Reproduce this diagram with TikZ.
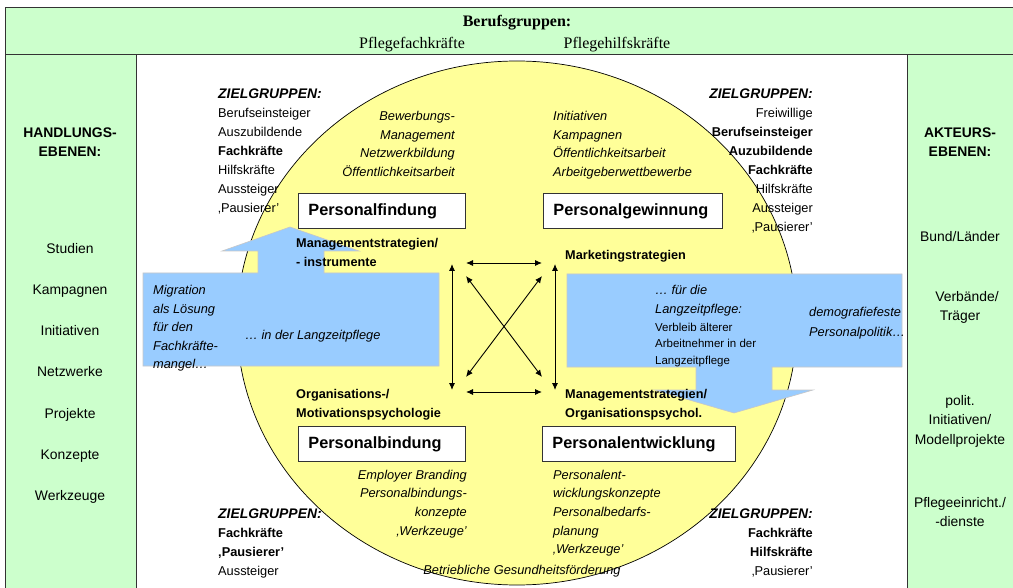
\documentclass[tikz,border=0pt]{standalone}
\usepackage{fontspec}
\setmainfont{Liberation Sans}
\newfontfamily\seriffont{Liberation Serif}
\usetikzlibrary{arrows.meta}
\definecolor{colgreen}{HTML}{CCFFCC}
\definecolor{colyellow}{HTML}{FFFF99}
\definecolor{colblue}{HTML}{99CCFF}
\definecolor{colborder}{HTML}{333333}
\newcommand\txtlines[6]{\foreach \t [count=\i] in {#6} {\node[#2] (#1\i) at (#3,{#4+#5*(\i-1)}) {\t};}}
\newcommand\zgh{{\fontsize{13.9}{15}\selectfont\bfseries\itshape ZIELGRUPPEN:}}
\begin{document}
\begin{tikzpicture}[x=1pt,y=-1pt,
 zt/.style={inner sep=0pt, font=\fontsize{12.8}{15}\selectfont},
 zi/.style={inner sep=0pt, font=\fontsize{12.8}{15}\selectfont\itshape},
 zb/.style={inner sep=0pt, font=\fontsize{12.7}{15}\selectfont\bfseries},
 col/.style={inner sep=0pt, font=\fontsize{13.9}{16}\selectfont, anchor=base},
 colb/.style={col, font=\fontsize{13.9}{16}\selectfont\bfseries},
 hdr/.style={inner sep=0pt, anchor=base, font=\fontsize{16}{18}\selectfont\seriffont},
 pbox/.style={draw=colborder, line width=0.9pt, fill=white, anchor=north west, minimum height=35pt, inner xsep=10pt, inner ysep=0pt, align=left, font=\fontsize{16.3}{18}\selectfont\bfseries},
 barrow/.style={{Latex[length=7pt,width=6pt]}-{Latex[length=7pt,width=6pt]}, line width=0.9pt},
 bluearrow/.style={fill=colblue, draw=black!22, line width=0.6pt},
 frame/.style={fill=colgreen, draw=colborder, line width=0.9pt}
]
\useasboundingbox (0,0) rectangle (1013,588);
\fill[white] (0,0) rectangle (1013,588);
% frames
\draw[frame] (5,7) rectangle (1016,54);
\draw[frame] (5,54) rectangle (136,592);
\draw[frame] (907,54) rectangle (1016,592);
% header
\node[hdr, font=\fontsize{16}{18}\selectfont\seriffont\bfseries] (berufs) at (517,27) {Berufsgruppen:};
\node[hdr] (pfk) at (412,49) {Pflegefachkräfte};
\node[hdr] (pfh) at (617,49) {Pflegehilfskräfte};
% left column
\node[colb] (hand1) at (70,138) {HANDLUNGS-};
\node[colb] (hand2) at (70,157) {EBENEN:};
\txtlines{he}{col}{70}{254}{41}{Studien,Kampagnen,Initiativen,Netzwerke,Projekte,Konzepte,Werkzeuge}
% right column
\node[colb] (akt1) at (960,138) {AKTEURS-};
\node[colb] (akt2) at (960,157) {EBENEN:};
\node[col] (ae1) at (960,242) {Bund/Länder};
\node[col] (ae2) at (967,302) {Verbände/};
\node[col] (ae3) at (960,321) {Träger};
\txtlines{ap}{col}{960}{405}{19.5}{polit.,Initiativen/,Modellprojekte}
\txtlines{pe}{col}{960}{507}{19.5}{Pflegeeinricht./,-dienste}
% yellow circle
\draw[fill=colyellow, draw=black, line width=0.7pt] (517,323) ellipse [x radius=280, y radius=262];
% blue arrows
\draw[bluearrow] (143,366) -- (143,273) -- (258,273) -- (258,251) -- (222,251) -- (290,227) -- (359,251) -- (324,251) -- (324,273) -- (439,273) -- (439,366) -- cycle;
\draw[bluearrow] (567,274) -- (902,274) -- (902,367) -- (772,367) -- (772,390) -- (813,390) -- (734,413) -- (655,390) -- (696,390) -- (696,367) -- (567,367) -- cycle;
% boxes
\node[pbox, text width=147pt] (pf) at (298,193) {Personalfindung};
\node[pbox, text width=159pt] (pg) at (543,193) {Personalgewinnung};
\node[pbox, text width=147pt] (pb) at (298,426) {Personalbindung};
\node[pbox, text width=173pt] (pe) at (542,426) {Personalentwicklung};
% Zielgruppen
\txtlines{zgtl}{zt,anchor=base west}{218}{99}{19}{\zgh,Berufseinsteiger,Auszubildende,\textbf{Fachkräfte},Hilfskräfte,Aussteiger,‚Pausierer’}
\txtlines{zgtr}{zt,anchor=base east}{813}{99}{19}{\zgh,Freiwillige,\textbf{Berufseinsteiger},\textbf{Auzubildende},\textbf{Fachkräfte},Hilfskräfte,Aussteiger,‚Pausierer’}
\txtlines{zgbl}{zt,anchor=base west}{218}{518}{19}{\zgh,\textbf{Fachkräfte},\textbf{‚Pausierer’},Aussteiger}
\txtlines{zgbr}{zt,anchor=base east}{813}{518}{19}{\zgh,\textbf{Fachkräfte},\textbf{Hilfskräfte},‚Pausierer’}
% measures
\txtlines{mtl}{zi,anchor=base east}{455}{121}{18.5}{Bewerbungs-,Management,Netzwerkbildung,Öffentlichkeitsarbeit}
\txtlines{mtr}{zi,anchor=base west}{553}{121}{18.5}{Initiativen,Kampagnen,Öffentlichkeitsarbeit,Arbeitgeberwettbewerbe}
\txtlines{mbl}{zi,anchor=base east}{467}{479}{18.7}{Employer Branding,Personalbindungs-,konzepte,‚Werkzeuge’}
\txtlines{mbr}{zi,anchor=base west}{553}{479}{18.7}{Personalent-,wicklungskonzepte,Personalbedarfs-,planung,‚Werkzeuge’}
\node[zi,anchor=base] (bgf) at (522,574) {Betriebliche Gesundheitsförderung};
% strategy labels
\txtlines{sl}{zb,anchor=base west}{296}{248}{18.5}{Managementstrategien/,- instrumente}
\node[zb,anchor=base west] (mk) at (565,260) {Marketingstrategien};
\txtlines{sbl}{zb,anchor=base west}{296}{398.5}{18.5}{Organisations-/,Motivationspsychologie}
\txtlines{sbr}{zb,anchor=base west}{565}{398.5}{18.5}{Managementstrategien/,Organisationspsychol.}
% blue arrow texts
\txtlines{mig}{zi,anchor=base west}{153}{295}{18.5}{Migration,als Lösung,für den,Fachkräfte-,mangel…}
\node[zi,anchor=base west] (lzp) at (245,340) {… in der Langzeitpflege};
\txtlines{fdl}{zi,anchor=base west}{655}{295}{18.5}{… für die,Langzeitpflege:}
\txtlines{vbl}{zt,font=\fontsize{11.5}{14}\selectfont,anchor=base west}{655}{331}{17}{Verbleib älterer,Arbeitnehmer in der,Langzeitpflege}
\txtlines{dem}{zi,anchor=base west}{809}{317}{19.5}{demografiefeste,Personalpolitik…}
% black arrows
\coordinate (hA1) at (466,263); \coordinate (hA2) at (542,263);
\coordinate (hB1) at (466,392); \coordinate (hB2) at (542,392);
\coordinate (vL1) at (452,264); \coordinate (vL2) at (452,390);
\coordinate (vR1) at (555,264); \coordinate (vR2) at (555,390);
\coordinate (dA1) at (466,276); \coordinate (dA2) at (542,377);
\coordinate (dB1) at (542,276); \coordinate (dB2) at (466,377);
\draw[barrow] (hA1) -- (hA2);
\draw[barrow] (hB1) -- (hB2);
\draw[barrow] (vL1) -- (vL2);
\draw[barrow] (vR1) -- (vR2);
\draw[barrow] (dA1) -- (dA2);
\draw[barrow] (dB1) -- (dB2);
\end{tikzpicture}
\end{document}
